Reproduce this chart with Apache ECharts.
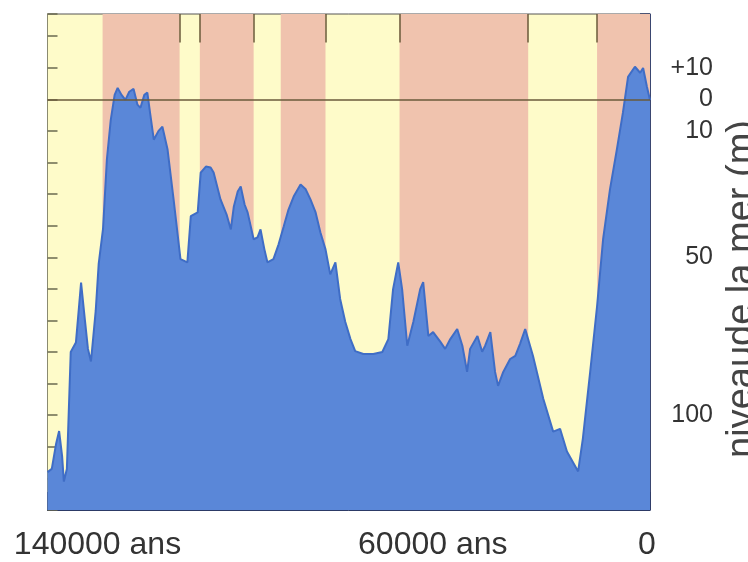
<!DOCTYPE html>
<html>
<head>
<meta charset="utf-8">
<script src="https://cdn.jsdelivr.net/npm/echarts@6/dist/echarts.min.js"></script>
<style>
html,body{margin:0;padding:0;background:#ffffff;}
#chart{width:748px;height:562px;}
</style>
</head>
<body>
<div id="chart"></div>
<script>
// Years before present (ans)
var years = [140000,139000,138000,137300,136600,136200,135500,134600,133400,132700,132200,131300,130600,129900,128800,128100,127100,126200,125300,124400,123700,122800,121900,121000,120000,119100,118400,117500,116800,116100,115300,114200,113300,112100,110700,109100,107500,106700,105100,104400,103200,102100,101400,99800,98400,97400,96700,95800,95100,94200,93500,92100,91200,90500,89600,88900,87500,86300,85100,84000,82800,81200,80000,78900,77700,76600,75400,74300,73100,72000,70800,69600,68500,66600,64300,62200,60800,59700,58500,57600,56400,55000,53400,52700,51500,50400,48700,47600,46400,44800,43600,42500,41800,40100,39000,38300,37100,36000,35300,34100,32500,31300,30200,29000,27200,24800,22500,20900,19300,16700,15600,13900,12300,10900,9300,7700,6300,5100,3500,2300,1600,700,0];
// Sea level (m), negative = below present level
var seaLevel = [-118,-117,-109,-105,-113,-121,-117,-80,-77,-66,-58,-70,-79,-83,-67,-52,-41,-19,-6.5,1.4,3.6,1.4,-0.2,2.4,3.3,-1.7,-2.7,1.4,2.1,-4.9,-12.8,-10,-8.7,-15.9,-31.7,-50.6,-51.6,-37,-35.8,-23.2,-21.3,-21.6,-23.2,-31.7,-36.4,-41.2,-33.9,-29.2,-27.6,-33.3,-35.8,-44.3,-43.7,-41.2,-47.5,-51.6,-50.6,-45.9,-40.2,-34.9,-30.8,-27,-28.5,-31.7,-35.8,-42.1,-47.5,-55.4,-51.6,-63.2,-70.5,-75.9,-79.7,-80.6,-80.6,-80,-75.9,-60.1,-51.6,-60.1,-78,-70.5,-60.1,-57.9,-74.9,-73.7,-76.8,-79,-75.9,-72.7,-78,-86.3,-79,-74.9,-79.9,-78,-73.7,-86.3,-90.7,-86.3,-82.2,-81.2,-77.4,-72.7,-81.2,-94.8,-105.2,-104.3,-111.5,-117.8,-107.4,-86.3,-65.5,-44.3,-28.5,-15.9,-4.3,7.1,10.3,8.4,9.9,3.9,-0.2];
// Pink (warm) period bands
var bandStart = [127200,104600,85800,58200,12300];
var bandEnd = [109300,92100,75400,28300,0];
// Band boundary marks on the top edge
var topMarks = [109300,104600,92100,75400,58200,28300,12300];
// Tick labels
var xLabelValues = [140000,60000,0];
var xLabelTexts = ['140000 ans','60000 ans','0'];
var yLabelValues = [10,0,-10,-50,-100];
var yLabelTexts = ['+10','0','10','50','100'];
var yTitle = 'niveaude la mer (m)';

var seriesData = years.map(function(y,i){return [y, seaLevel[i]];});
var bands = bandStart.map(function(s,i){return [{xAxis:s},{xAxis:bandEnd[i]}];});
var marks = topMarks.map(function(t){return [{coord:[t,27]},{coord:[t,18]}];});

var FONT = "'Liberation Sans',Arial,sans-serif";

var chart = echarts.init(document.getElementById('chart'), null, {renderer:'canvas'});
chart.setOption({
  animation:false,
  backgroundColor:'#ffffff',
  grid:{left:47.5,right:98,top:14,bottom:52,outerBoundsMode:'none',containLabel:false,
    show:true,backgroundColor:'#fefbc9',borderColor:'#555',borderWidth:1},
  xAxis:{
    type:'value',inverse:true,min:0,max:140000,interval:20000,position:'bottom',
    axisLine:{show:true,onZero:false,lineStyle:{color:'#2c3a66',width:1}},
    axisTick:{show:true,inside:true,length:18,lineStyle:{color:'#2c3a66',width:1.5}},
    splitLine:{show:false},
    axisLabel:{
      show:true,margin:19,showMinLabel:true,showMaxLabel:true,
      fontFamily:FONT,fontSize:32,color:'#333',
      formatter:function(v){
        var i = xLabelValues.indexOf(v);
        if(i<0) return '';
        var key = i===0?'l':(i===1?'m':'r');
        return '{'+key+'|'+xLabelTexts[i]+'}';
      },
      rich:{
        l:{fontFamily:FONT,fontSize:32,color:'#333',padding:[0,0,0,100]},
        m:{fontFamily:FONT,fontSize:32,color:'#333',padding:[0,0,0,82]},
        r:{fontFamily:FONT,fontSize:32,color:'#333',padding:[0,6,0,0]}
      }
    }
  },
  yAxis:[{
    type:'value',min:-130,max:27,interval:10,position:'right',
    axisLine:{show:true,onZero:false,lineStyle:{color:'#3a4670',width:1}},
    axisTick:{show:true,inside:true,length:10,lineStyle:{color:'#2c3a66',width:1.5}},
    splitLine:{show:false},
    axisLabel:{
      show:true,align:'right',margin:63,fontFamily:FONT,fontSize:25,color:'#333',
      formatter:function(v){var i=yLabelValues.indexOf(v);return i<0?'':yLabelTexts[i];}
    },
    name:yTitle,nameLocation:'middle',nameRotate:90,nameGap:64,
    nameTextStyle:{fontFamily:FONT,fontSize:38,color:'#444',padding:[0,54,0,0]}
  },{
    type:'value',min:-130,max:27,interval:10,position:'left',
    axisLine:{show:true,onZero:false,lineStyle:{color:'#8a8a70',width:1}},
    axisTick:{show:true,inside:true,length:10,lineStyle:{color:'#6a6a50',width:1.5}},
    splitLine:{show:false},
    axisLabel:{show:false}
  }],
  series:[{
    type:'line',data:[],z:1,silent:true,
    markArea:{silent:true,itemStyle:{color:'#f0c3ae',opacity:1},data:bands},
    markLine:{silent:true,symbol:['none','none'],label:{show:false},
      lineStyle:{color:'#6a5a3a',width:1.5,type:'solid'},
      data:[[{coord:[140000,0]},{coord:[0,0]}]].concat(marks)}
  },{
    type:'line',data:seriesData,z:3,showSymbol:false,smooth:false,
    lineStyle:{color:'#3f6dc6',width:2},
    areaStyle:{color:'#5a87d8',opacity:1,origin:'start'}
  }]
});
</script>
</body>
</html>
